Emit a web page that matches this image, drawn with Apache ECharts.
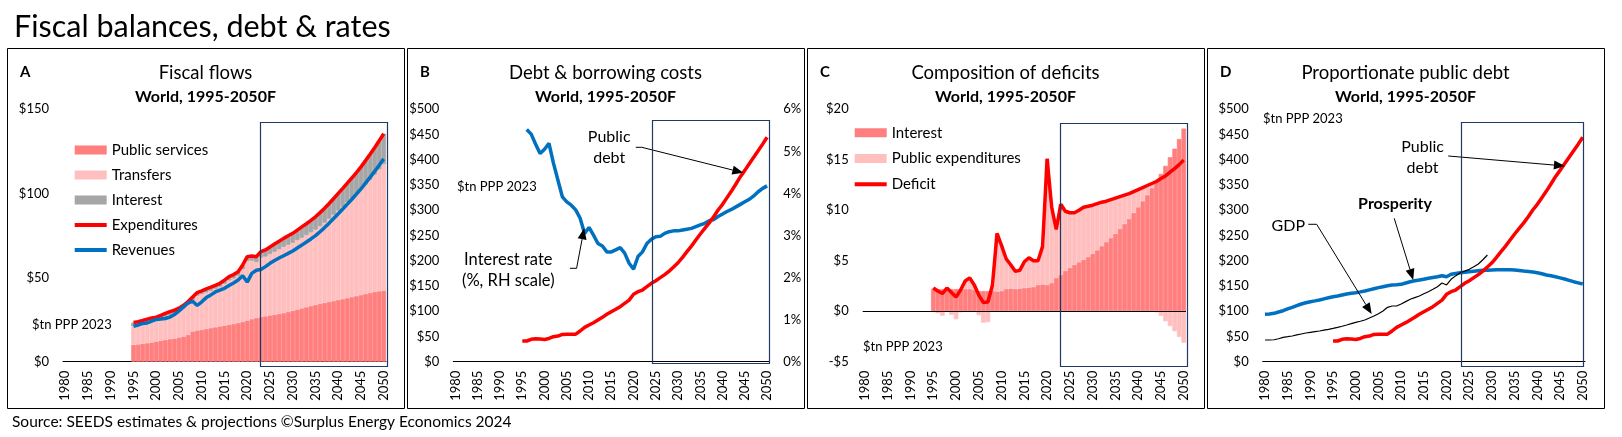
<!DOCTYPE html>
<html><head><meta charset="utf-8">
<script src="https://cdn.jsdelivr.net/npm/echarts@6/dist/echarts.min.js"></script>
<style>html,body{margin:0;padding:0;background:#fff;}#c{width:1622px;height:437px;}</style>
</head><body><div id="c"></div>
<script>
// ---------- DATA ----------
const years = [];
for (let y = 1980; y <= 2050; y++) years.push(String(y));
const FIRST_FISCAL_YEAR = 1995;

// Panel A: fiscal flows, $tn PPP 2023, 1995-2050
const publicServices = [10.1,10.3,10.7,11.0,11.4,12.0,12.5,13.0,13.4,13.8,
  14.4,15.0,16.0,18.0,18.6,19.0,19.5,20.0,20.5,21.0,
  21.5,22.0,22.5,23.0,23.7,24.5,25.3,26.0,26.5,27.0,
  27.5,28.0,28.5,28.9,29.6,30.3,31.0,31.7,32.4,33.1,
  33.8,34.4,35.0,35.5,36.1,36.7,37.2,37.8,38.4,39.0,
  39.6,40.3,40.9,41.5,41.9,42.3];
const transfers = [11.0,11.3,11.6,12.1,12.4,12.3,12.8,13.5,14.2,14.7,
  15.4,16.5,17.8,18.5,20.55,21.1,21.6,22.05,22.7,23.35,
  24.7,26.25,26.9,27.9,31.15,35.3,34.7,33.1,35.3,35.4,
  36.4,37.3,38.25,39.3,39.83,40.3,41.17,41.95,42.75,43.65,
  44.62,46.03,47.55,49.35,51.15,53.0,54.9,56.8,58.6,60.45,
  62.6,64.8,67.15,69.6,72.34,75.1];
const interest = [2.2,2.2,2.2,2.2,2.2,2.2,2.2,2.2,2.2,2.1,
  2.0,2.0,2.0,2.0,1.95,2.0,2.2,2.25,2.2,2.25,
  2.3,2.35,2.4,2.6,2.65,2.6,2.8,3.3,3.6,4.0,
  4.3,4.6,4.85,5.1,5.37,5.7,6.03,6.45,6.85,7.25,
  7.68,8.17,8.65,9.15,9.75,10.3,10.9,11.5,12.2,12.95,
  13.6,14.4,15.25,16.1,17.06,18.1];
const expenditures = [23.3,23.8,24.5,25.3,26.0,26.5,27.5,28.7,29.8,30.6,
  31.8,33.5,35.8,38.5,41.1,42.1,43.3,44.3,45.4,46.6,
  48.5,50.6,51.8,53.5,57.5,62.4,62.8,62.4,65.4,66.4,
  68.2,69.9,71.6,73.3,74.8,76.3,78.2,80.1,82.0,84.0,
  86.1,88.6,91.2,94.0,97.0,100.0,103.0,106.1,109.2,112.4,
  115.8,119.5,123.3,127.2,131.3,135.5];
const revenues = [21.0,21.8,22.75,23.0,24.15,25.1,25.4,25.7,26.5,28.0,
  30.2,32.6,34.9,35.9,33.4,35.6,38.1,39.7,41.45,42.55,
  43.6,45.3,46.8,48.5,51.1,47.3,52.5,54.3,54.8,56.5,
  58.45,60.15,61.6,63.0,64.4,65.8,67.55,69.3,71.1,72.95,
  74.9,77.25,79.7,82.35,85.15,87.95,90.75,93.65,96.55,99.55,
  102.66,106.1,109.53,113.08,116.78,120.53];

// Panel C: composition of deficits, 1995-2050
const primaryExpenditure = [0.1,-0.2,-0.45,0.1,-0.35,-0.8,-0.1,0.8,1.1,0.5,
  -0.4,-1.14,-1.08,0.6,5.75,4.5,3.0,2.35,1.75,1.8,
  2.6,2.95,2.6,2.4,3.75,12.5,7.5,4.8,7.0,5.9,
  5.45,5.15,5.15,5.2,5.03,4.8,4.62,4.35,4.05,3.8,
  3.52,3.18,2.85,2.5,2.1,1.75,1.35,0.95,0.45,-0.1,
  -0.46,-1.0,-1.48,-1.98,-2.54,-3.13];
const deficit = [2.3,2.0,1.75,2.3,1.85,1.4,2.1,3.0,3.3,2.6,
  1.6,0.86,0.92,2.6,7.7,6.5,5.2,4.6,3.95,4.05,
  4.9,5.3,5.0,5.0,6.4,15.1,10.3,8.1,10.6,9.9,
  9.75,9.75,10.0,10.3,10.4,10.5,10.65,10.8,10.9,11.05,
  11.2,11.35,11.5,11.65,11.85,12.05,12.25,12.45,12.65,12.85,
  13.14,13.4,13.77,14.12,14.52,14.97];

// Panels B & D: public debt ($tn) and interest rate (%), 1995-2050
const publicDebt = [41,41,44.3,45.6,45,44,46,49.5,50.7,54,
  54.5,54.5,54.5,60.8,68,72.7,77.3,82.6,87.9,93.9,
  99,103.8,109,115.6,122,133.5,138.7,142,148.6,155.3,
  160.5,166.5,172.5,179.5,187.5,196,206.8,218,229,241,
  253,264,275,287,300.5,311.8,325,338,352,366.5,
  379,392,405,418,431,444.5];
const interestRate = [null,5.52,5.41,5.17,4.95,5.05,5.19,4.72,4.32,3.92,
  3.80,3.72,3.61,3.41,3.05,3.19,3.01,2.81,2.75,2.61,
  2.61,2.66,2.71,2.58,2.34,2.20,2.50,2.61,2.81,2.91,
  2.97,2.98,3.05,3.09,3.11,3.11,3.13,3.15,3.17,3.21,
  3.25,3.29,3.35,3.38,3.45,3.51,3.57,3.62,3.68,3.74,
  3.80,3.86,3.94,4.04,4.12,4.18];

// Panel D: 1980-2050 (prosperity) and 1980-2029 (GDP)
const prosperity = [93.8,94.5,95.8,98.5,101,104.5,107.7,111,114.3,116.8,
  118.9,120.5,122.2,124.5,126.8,128.5,130.1,132.2,134.1,135.5,
  136.7,138.3,140,142.3,144.6,146.7,148.6,150.5,151.9,152.5,
  153.3,156,158.5,160.2,161.8,163.5,165.2,166.8,168.4,170.4,
  168.4,173.1,174.8,176.3,177.3,178.3,179.3,180.3,181,181.4,
  181.7,182,182.2,182.3,182.1,181.7,180.8,179.7,178.7,177.7,
  176.3,174.2,171.8,170.1,168.4,166.1,163.8,161.2,158.5,156.2,153.9];
const gdp = [43,43,43.5,45.5,48.3,49.5,50.9,53,54.9,56.8,
  58.2,59.5,60.8,62.5,64.2,66,68.1,70.3,72.7,75.3,
  78,80.2,82.6,86.5,90.5,95,100.4,107.7,110.3,110.3,
  114.3,119,123.6,127,130.1,134.5,138.7,143.5,148.6,156,
  152,163.2,170,176.3,179.5,183,188,193.5,202,211.4];

// Axis ranges / tick definitions
const axisA = {min: 0, max: 150, interval: 50};
const axisDebt = {min: 0, max: 500, interval: 50};
const axisRate = {min: 0, max: 6, interval: 1};
const axisC = {min: -5, max: 20, interval: 5};
const panelTitles = ['Fiscal flows', 'Debt & borrowing costs', 'Composition of deficits', 'Proportionate public debt'];
const panelLetters = ['A', 'B', 'C', 'D'];
const subtitle = 'World, 1995-2050F';

// ---------- HELPERS ----------
function fromFirst(arr) { return years.map(y => { const i = +y - FIRST_FISCAL_YEAR; return (i >= 0 && i < arr.length) ? arr[i] : null; }); }
function fromStart(arr) { return years.map((y, i) => i < arr.length ? arr[i] : null); }
const money = v => (v < 0 ? '-$' : '$') + Math.abs(v);
const pct = v => v + '%';

const FONT = 'Lato, "Liberation Sans", sans-serif';
const C_DARK = '#FF7F7F', C_LIGHT = '#FFBFBF', C_GREY = '#A6A6A6', C_RED = '#FF0000', C_BLUE = '#0070C0';

const grids = [
  {left: 63, top: 109.3, width: 323, height: 252.4},
  {left: 453.3, top: 109.3, width: 316, height: 252.4},
  {left: 862.7, top: 109.3, width: 323.3, height: 252.4},
  {left: 1262.7, top: 109.3, width: 322.3, height: 252.4}
];

function xAx(gi, showLine) {
  return {type: 'category', gridIndex: gi, data: years, boundaryGap: true,
    axisLine: {show: showLine, onZero: false, lineStyle: {color: '#000', width: 1}},
    axisTick: {show: false}, splitLine: {show: false},
    axisLabel: {interval: 4, rotate: 90, margin: 9, color: '#000', fontSize: 13, fontFamily: FONT}};
}
function yAx(gi, rng, fmt, pos) {
  return {type: 'value', gridIndex: gi, position: pos || 'left', min: rng.min, max: rng.max, interval: rng.interval,
    axisLine: {show: false}, axisTick: {show: false}, splitLine: {show: false},
    axisLabel: {formatter: fmt, margin: 14, color: '#000', fontSize: 13, fontFamily: FONT}};
}
function bar(name, xi, yi, stack, data, color) {
  return {type: 'bar', name, xAxisIndex: xi, yAxisIndex: yi, stack, data, barCategoryGap: '0%', barGap: '0%',
    itemStyle: {color, borderColor: color, borderWidth: 0.8}, emphasis: {disabled: true}};
}
function line(name, xi, yi, data, color, width) {
  return {type: 'line', name, xAxisIndex: xi, yAxisIndex: yi, data, symbol: 'none', showSymbol: false,
    lineStyle: {color, width}, itemStyle: {color}, emphasis: {disabled: true}};
}
const HIDE_SYMBOL = {color: 'rgba(0,0,0,0)', borderColor: 'rgba(0,0,0,0)', borderWidth: 0};

const option = {
  animation: false,
  backgroundColor: '#fff',
  textStyle: {fontFamily: FONT},
  grid: grids,
  xAxis: [xAx(0, true), xAx(1, true), xAx(2, false), xAx(3, true)],
  yAxis: [yAx(0, axisA, money), yAx(1, axisDebt, money), yAx(1, axisRate, pct, 'right'), yAx(2, axisC, money), yAx(3, axisDebt, money)],
  legend: [
    {orient: 'vertical', left: 72.7, top: 142.5, padding: 0, itemWidth: 32, itemHeight: 9, itemGap: 10,
      textStyle: {fontSize: 15, fontFamily: FONT, color: '#000'}, selectedMode: false,
      data: [
        {name: 'Public services', icon: 'rect', itemStyle: {color: C_DARK, borderWidth: 0}},
        {name: 'Transfers', icon: 'rect', itemStyle: {color: C_LIGHT, borderWidth: 0}},
        {name: 'Interest', icon: 'rect', itemStyle: {color: C_GREY, borderWidth: 0}},
        {name: 'Expenditures', lineStyle: {color: C_RED, width: 4}, itemStyle: HIDE_SYMBOL},
        {name: 'Revenues', lineStyle: {color: C_BLUE, width: 4}, itemStyle: HIDE_SYMBOL}
      ]},
    {orient: 'vertical', left: 852.7, top: 125.2, padding: 0, itemWidth: 32, itemHeight: 9, itemGap: 10.8,
      textStyle: {fontSize: 15, fontFamily: FONT, color: '#000'}, selectedMode: false,
      data: [
        {name: 'Interest', icon: 'rect', itemStyle: {color: C_DARK, borderWidth: 0}},
        {name: 'Public expenditures', icon: 'rect', itemStyle: {color: C_LIGHT, borderWidth: 0}},
        {name: 'Deficit', lineStyle: {color: C_RED, width: 4}, itemStyle: HIDE_SYMBOL}
      ]}
  ],
  series: [
    bar('Public services', 0, 0, 'A', fromFirst(publicServices), C_DARK),
    bar('Transfers', 0, 0, 'A', fromFirst(transfers), C_LIGHT),
    bar('Interest', 0, 0, 'A', fromFirst(interest), C_GREY),
    line('Expenditures', 0, 0, fromFirst(expenditures), C_RED, 3.5),
    line('Revenues', 0, 0, fromFirst(revenues), C_BLUE, 3.5),

    line('Interest rate', 1, 2, fromFirst(interestRate), C_BLUE, 3.5),
    line('Public debt', 1, 1, fromFirst(publicDebt), C_RED, 3.5),

    bar('Interest', 2, 3, 'C', fromFirst(interest), C_DARK),
    bar('Public expenditures', 2, 3, 'C', fromFirst(primaryExpenditure), C_LIGHT),
    Object.assign(line('Deficit', 2, 3, fromFirst(deficit), C_RED, 3.5), {
      markLine: {silent: true, symbol: 'none', label: {show: false}, animation: false,
        lineStyle: {color: '#000', width: 1, type: 'solid'}, data: [{yAxis: 0}]}
    }),

    line('Prosperity', 3, 4, fromStart(prosperity), C_BLUE, 3.5),
    line('GDP', 3, 4, fromStart(gdp), '#000', 1.2),
    line('Public debt ', 3, 4, fromFirst(publicDebt), C_RED, 3.5)
  ]
};

const chart = echarts.init(document.getElementById('c'), null, {renderer: 'canvas', width: 1622, height: 437});
chart.setOption(option);

// ---------- ANNOTATIONS (positioned through the axes) ----------
function pt(xi, yi, year, val) {
  const a = chart.convertToPixel({xAxisIndex: xi, yAxisIndex: yi}, [years[0], val]);
  const b = chart.convertToPixel({xAxisIndex: xi, yAxisIndex: yi}, [years[years.length - 1], val]);
  const t = (year - 1980) / (years.length - 1);
  return [a[0] + t * (b[0] - a[0]), a[1]];
}
const forecastBoxes = [
  {xi: 0, yi: 0, from: 2022.7, to: 2050.7, top: 142.3, bottom: -2.4},
  {xi: 1, yi: 1, from: 2024.2, to: 2050.5, top: 478.8, bottom: -3.2},
  {xi: 2, yi: 3, from: 2022.8, to: 2050.8, top: 18.65, bottom: -5.43},
  {xi: 3, yi: 4, from: 2023.2, to: 2050.1, top: 474.2, bottom: -8.5}
];
const arrows = [
  {xi: 1, yi: 1, pts: [[2020.5, 424.7], [2021.84, 424.7], [2044.67, 374.4]]},
  {xi: 1, yi: 2, pts: [[2005.7, 2.22], [2007.2, 2.22], [2008.9, 3.17]]},
  {xi: 3, yi: 4, pts: [[2020.37, 407.5], [2046.08, 387.7]]},
  {xi: 3, yi: 4, pts: [[2008.47, 284.1], [2012.66, 162.0]]},
  {xi: 3, yi: 4, pts: [[1989.54, 272.2], [1991.39, 272.2], [2003.5, 94.5]]}
];

const els = [];
function txt(t, x, y, size, opts) {
  opts = opts || {};
  els.push({type: 'text', z: 100, silent: true, style: {
    text: t, x, y, fill: '#000', font: (opts.bold ? 'bold ' : '') + size + 'px ' + FONT,
    fontSize: size, fontWeight: opts.bold ? 'bold' : 'normal', fontFamily: FONT,
    align: opts.align || 'center', verticalAlign: 'middle',
    textAlign: opts.align || 'center', textVerticalAlign: 'middle'}});
}
// Panel frames and headings
const panelLefts = [7, 407, 807, 1207];
panelLefts.forEach((L, i) => {
  els.push({type: 'rect', z: 100, silent: true, shape: {x: L + 0.5, y: 48.5, width: 397, height: 360},
    style: {fill: 'none', stroke: '#000', lineWidth: 1}});
  txt(panelTitles[i], L + 198.5, 73, 18.5);
  txt(subtitle, L + 198.5, 97, 16, {bold: true});
  txt(panelLetters[i], L + 13, 72, 15, {bold: true, align: 'left'});
});
txt('Fiscal balances, debt & rates', 14, 27, 30.5, {align: 'left'});
txt('Source: SEEDS estimates & projections \u00A9Surplus Energy Economics 2024', 12, 422, 15.5, {align: 'left'});
// Unit notes
txt('$tn PPP 2023', 32, 325, 13, {align: 'left'});
txt('$tn PPP 2023', 457, 187, 13, {align: 'left'});
txt('$tn PPP 2023', 863, 346.7, 13, {align: 'left'});
txt('$tn PPP 2023', 1263, 119, 13, {align: 'left'});
// Callouts
txt('Public', 609.2, 137.1, 16); txt('debt', 609.2, 157.8, 16);
txt('Interest rate', 508.3, 259.8, 16.5); txt('(%, RH scale)', 508.3, 280.5, 16.5);
txt('Public', 1422.6, 147.1, 16); txt('debt', 1422.6, 167.8, 16);
txt('Prosperity', 1395, 203.8, 16, {bold: true});
txt('GDP', 1288.3, 226.1, 16);

forecastBoxes.forEach(b => {
  const p1 = pt(b.xi, b.yi, b.from, b.top), p2 = pt(b.xi, b.yi, b.to, b.bottom);
  const x1 = Math.round(p1[0]) + 0.5, y1 = Math.round(p1[1]) + 0.5;
  const x2 = Math.round(p2[0]) + 0.5, y2 = Math.round(p2[1]) + 0.5;
  els.push({type: 'rect', z: 110, silent: true, shape: {x: x1, y: y1, width: x2 - x1, height: y2 - y1},
    style: {fill: 'none', stroke: '#1F3864', lineWidth: 1.2}});
});
arrows.forEach(a => {
  const P = a.pts.map(p => pt(a.xi, a.yi, p[0], p[1]));
  const tip = P[P.length - 1], prev = P[P.length - 2];
  const dx = tip[0] - prev[0], dy = tip[1] - prev[1], len = Math.hypot(dx, dy);
  const ux = dx / len, uy = dy / len, L = 11, W = 4.5;
  const base = [tip[0] - ux * L, tip[1] - uy * L];
  const linePts = P.slice(0, -1).concat([base]);
  els.push({type: 'polyline', z: 105, silent: true, shape: {points: linePts}, style: {stroke: '#000', lineWidth: 1, fill: 'none'}});
  els.push({type: 'polygon', z: 105, silent: true, shape: {points: [tip, [base[0] - uy * W, base[1] + ux * W], [base[0] + uy * W, base[1] - ux * W]]},
    style: {fill: '#000', stroke: 'none'}});
});
chart.setOption({graphic: {elements: els}});
</script></body></html>
